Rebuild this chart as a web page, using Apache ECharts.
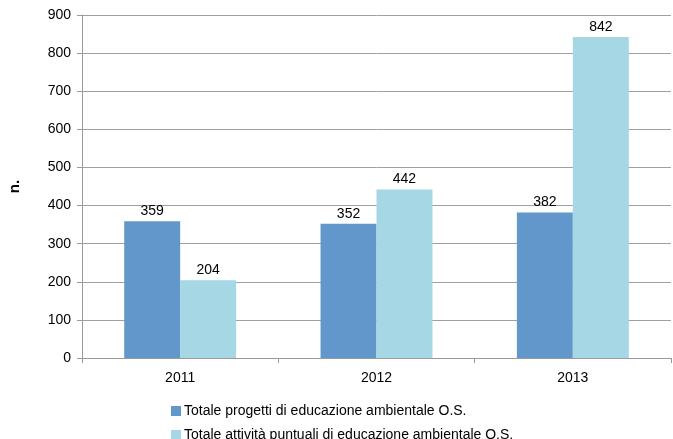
<!DOCTYPE html>
<html>
<head>
<meta charset="utf-8">
<script src="https://cdn.jsdelivr.net/npm/echarts@6/dist/echarts.min.js"></script>
<style>
  html, body { margin: 0; padding: 0; background: #fff; }
  #chart { width: 673px; height: 439px; }
</style>
</head>
<body>
<div id="chart"></div>
<script>
// categorie (anni)
const years = ["2011", "2012", "2013"];
const progetti = [359, 352, 382];
const attivita = [204, 442, 842];
const yTicks = [0, 100, 200, 300, 400, 500, 600, 700, 800, 900];
const seriesNames = [
  "Totale progetti di educazione ambientale O.S.",
  "Totale attività puntuali di educazione ambientale O.S."
];

const myChart = echarts.init(document.getElementById("chart"));
const label = {
  show: true,
  position: "top",
  color: "#000",
  fontSize: 14,
  distance: 3
};
// una voce di legenda per riga
const legendBase = {
  left: 166,
  itemWidth: 10,
  itemHeight: 10,
  icon: "rect",
  textStyle: { fontSize: 14, color: "#000", padding: [0, 0, 0, -2] }
};
const option = {
  animation: false,
  color: ["#6197ca", "#a5d7e5"],
  textStyle: { fontFamily: "Liberation Sans" },
  grid: { left: 82, right: 2, top: 15, bottom: 81, outerBoundsMode: "none" },
  legend: [
    Object.assign({}, legendBase, { top: 399, data: [seriesNames[0]] }),
    Object.assign({}, legendBase, { top: 423, data: [seriesNames[1]] })
  ],
  xAxis: {
    type: "category",
    data: years,
    axisLine: { lineStyle: { color: "#9a9a9a" } },
    axisTick: { show: true, lineStyle: { color: "#9a9a9a" }, length: 5 },
    axisLabel: { color: "#000", fontSize: 14, margin: 13 }
  },
  yAxis: {
    type: "value",
    min: yTicks[0],
    max: yTicks[yTicks.length - 1],
    interval: 100,
    name: "n.",
    nameLocation: "middle",
    nameGap: 60,
    nameTextStyle: { fontWeight: "bold", fontSize: 15, color: "#000" },
    axisLine: { show: true, lineStyle: { color: "#9a9a9a" } },
    axisTick: { show: true, lineStyle: { color: "#9a9a9a" }, length: 5 },
    axisLabel: { color: "#000", fontSize: 14, margin: 11 },
    splitLine: { lineStyle: { color: "#a0a0a0" } }
  },
  series: [
    {
      type: "bar",
      name: seriesNames[0],
      data: progetti,
      barGap: "0%",
      barCategoryGap: "43%",
      label: label
    },
    {
      type: "bar",
      name: seriesNames[1],
      data: attivita,
      label: label
    }
  ]
};
myChart.setOption(option);
window.addEventListener("resize", function () {
  myChart.resize();
});
</script>
</body>
</html>
